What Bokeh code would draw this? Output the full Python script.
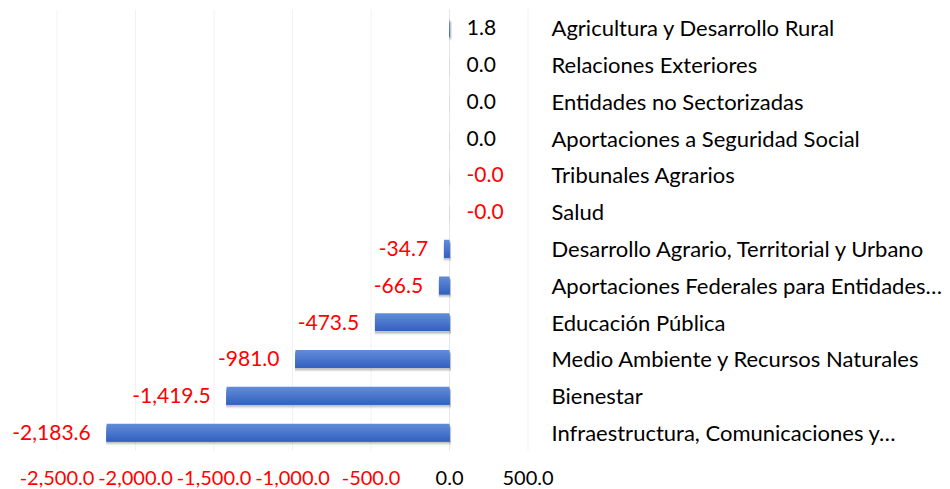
from bokeh.plotting import figure
from bokeh.models import ColumnDataSource, Range1d
from bokeh.core.properties import value
from bokeh.embed import file_html
from bokeh.resources import INLINE

# ---- data (top to bottom as shown) ----
categories = [
    "Agricultura y Desarrollo Rural",
    "Relaciones Exteriores",
    "Entidades no Sectorizadas",
    "Aportaciones a Seguridad Social",
    "Tribunales Agrarios",
    "Salud",
    "Desarrollo Agrario, Territorial y Urbano",
    "Aportaciones Federales para Entidades…",
    "Educación Pública",
    "Medio Ambiente y Recursos Naturales",
    "Bienestar",
    "Infraestructura, Comunicaciones y…",
]
values = [1.8, 0.01, 0.01, 0.01, -0.01, -0.01, -34.7, -66.5, -473.5, -981.0, -1419.5, -2183.6]
value_labels = ["1.8", "0.0", "0.0", "0.0", "-0.0", "-0.0", "-34.7", "-66.5",
                "-473.5", "-981.0", "-1,419.5", "-2,183.6"]
x_ticks = [-2500, -2000, -1500, -1000, -500, 0, 500]
x_tick_labels = ["-2,500.0", "-2,000.0", "-1,500.0", "-1,000.0", "-500.0", "0.0", "500.0"]

FONT = "Lato"
RED = "#ff0000"
n = len(categories)
ypos = [n - 1 - i for i in range(n)]

p = figure(width=950, height=489, output_backend="svg", toolbar_location=None,
           x_range=Range1d(-2860, 3191), y_range=Range1d(-1.55, 11.74),
           x_axis_location=None, y_axis_location=None,
           min_border_left=0, min_border_top=0, min_border_bottom=0, min_border_right=0)
p.outline_line_color = None
p.xgrid.visible = False
p.ygrid.visible = False
p.background_fill_color = "white"
p.border_fill_color = "white"

# gridlines
grid_x = [t for t in x_ticks if t != 0]
p.segment(x0=grid_x, x1=grid_x, y0=[-0.5] * len(grid_x), y1=[11.5] * len(grid_x),
          line_color="#f2f2f2", line_width=1)
p.segment(x0=[0], x1=[0], y0=[-0.5], y1=[11.5], line_color="#e8e8e8", line_width=1)

# bars: soft shadow + vertical gradient
H = 0.48
px = 1 / 36.8
big = [abs(v) > 1 for v in values]
for dy, a in [(4.0, 0.07), (3.0, 0.12), (2.0, 0.16)]:
    p.hbar(y=[y - dy * px for y in ypos],
           left=[min(v, 0) - (3 if b else 0) for v, b in zip(values, big)],
           right=[max(v, 0) + (10 if b else 4) for v, b in zip(values, big)], height=H,
           fill_color="#444444", fill_alpha=[a if b else a * 0.35 for b in big], line_color=None)
strips = 12
c_top = (0x60, 0x8b, 0xd8)
c_bot = (0x36, 0x63, 0xc1)
bottom = [y - H / 2 for y in ypos]
for s in range(strips):
    t = s / (strips - 1)
    col = "#%02x%02x%02x" % tuple(int(round(c_top[j] + (c_bot[j] - c_top[j]) * t)) for j in range(3))
    top_s = [y + H / 2 - H * s / strips for y in ypos]
    p.hbar(y=[(tp + b) / 2 for tp, b in zip(top_s, bottom)],
           height=[tp - b for tp, b in zip(top_s, bottom)],
           left=[min(v, 0) for v in values], right=[max(v, 0) for v in values],
           fill_color=col, line_color=None)

# value labels
al, off, cols = [], [], []
for v in values:
    if v < -1:
        al.append("right"); off.append(-16); cols.append(RED)
    elif v < 0:
        al.append("left"); off.append(17); cols.append(RED)
    else:
        al.append("left"); off.append(17); cols.append("black")
lab_src = ColumnDataSource(dict(x=[min(v, 0) if v < -1 else max(v, 0) for v in values],
                                y=ypos, t=value_labels, al=al, off=off, c=cols))
p.text(x="x", y="y", text="t", source=lab_src, text_align="al", x_offset="off",
       text_baseline="middle", text_color="c", text_font=value(FONT), text_font_size="21px")

# x tick labels
tcols = [RED if t < 0 else "black" for t in x_ticks]
p.text(x=x_ticks, y=[-0.5] * len(x_ticks), text=x_tick_labels, y_offset=[27] * len(x_ticks),
       text_align="center", text_baseline="middle", text_color=tcols,
       text_font=value(FONT), text_font_size="20px")

# category labels (right side)
p.text(x=[0] * n, y=ypos, text=categories, x_offset=[102] * n,
       text_align="left", text_baseline="middle", text_color="black",
       text_font=value(FONT), text_font_size="22px")

open("out.html", "w").write(file_html(p, INLINE))
